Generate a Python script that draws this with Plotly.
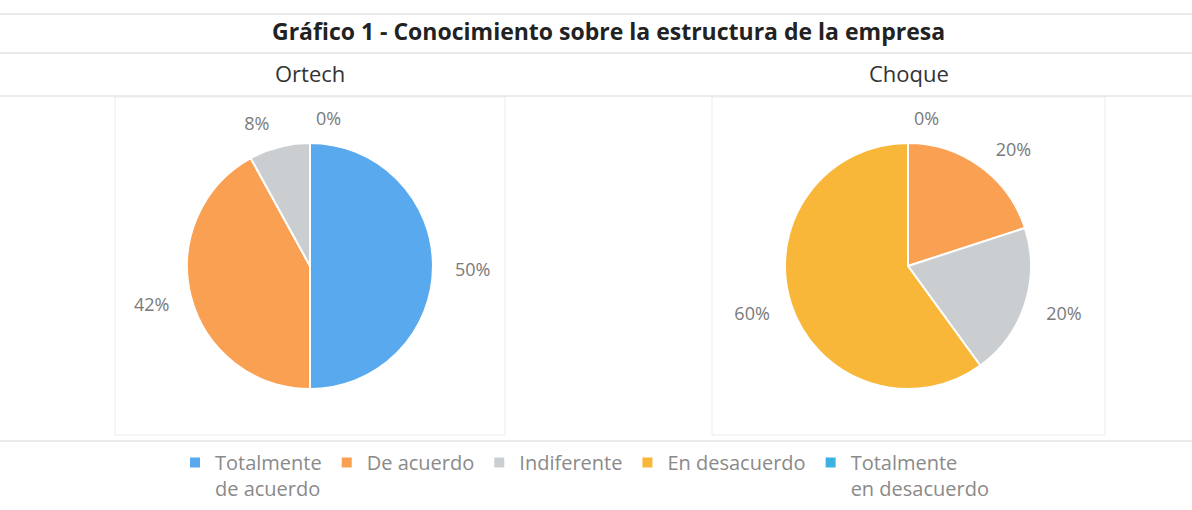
import plotly.graph_objects as go

categories = ["Totalmente<br>de acuerdo", "De acuerdo", "Indiferente", "En desacuerdo", "Totalmente<br>en desacuerdo"]
colors = ["#58A9EE", "#F9A052", "#CBCED1", "#F9B73A", "#3DB1E2"]
ortech_values = [50, 42, 8, 0, 0]
choque_values = [0, 20, 20, 60, 0]
subtitles = ["Ortech", "Choque"]
title_text = "<b>Gráfico 1 - Conocimiento sobre la estructura de la empresa</b>"

W, H = 1192, 510
FONT = "Open Sans"

def dom_x(cx, r):
    return [(cx - r) / W, (cx + r) / W]

def dom_y(cy, r):
    return [(H - cy - r) / H, (H - cy + r) / H]

def label_templates(vals):
    # show every non-zero percentage, but only one "0%" (zero slices stack at the same spot)
    out, zero_seen = [], False
    for v in vals:
        if v == 0:
            out.append("" if zero_seen else "%{percent:.0%}")
            zero_seen = True
        else:
            out.append("%{percent:.0%}")
    return out

R = 123
R_LABEL = 139
CY = 266
CY_LABEL = 269
fig = go.Figure()
for i, (vals, cx) in enumerate([(ortech_values, 310), (choque_values, 908)]):
    fig.add_trace(go.Pie(
        labels=categories, values=vals, sort=False, direction="clockwise", rotation=0,
        marker=dict(colors=colors, line=dict(color="white", width=2)),
        textinfo="none",
        domain=dict(x=dom_x(cx, R), y=dom_y(CY, R)),
        showlegend=(i == 0), hoverinfo="label+percent",
    ))
    # transparent twin pie used only to place the percentage labels a bit further out
    fig.add_trace(go.Pie(
        labels=categories, values=vals, sort=False, direction="clockwise", rotation=0,
        marker=dict(colors=["rgba(0,0,0,0)"] * len(vals), line=dict(width=0)),
        textinfo="percent", textposition="outside",
        texttemplate=label_templates(vals),
        textfont=dict(family=FONT, size=18, color="#7a7a7a"),
        domain=dict(x=dom_x(cx, R_LABEL), y=dom_y(CY_LABEL, R_LABEL)),
        showlegend=False, hoverinfo="skip",
    ))

shapes = []
for y in [14, 53, 96, 441]:
    shapes.append(dict(type="line", xref="paper", yref="paper", x0=0, x1=1,
                       y0=1 - y / H, y1=1 - y / H, line=dict(color="#d6d6d6", width=1)))
for x0, x1 in [(115, 505), (712, 1105)]:
    shapes.append(dict(type="rect", xref="paper", yref="paper", x0=x0 / W, x1=x1 / W,
                       y0=1 - 435 / H, y1=1 - 97 / H, line=dict(color="#ececec", width=1),
                       fillcolor="rgba(0,0,0,0)"))

annotations = [
    dict(text=title_text, x=608 / W, y=1 - 31 / H, xref="paper", yref="paper", showarrow=False,
         font=dict(family=FONT, size=23, color="#222222"), xanchor="center", yanchor="middle"),
    dict(text=subtitles[0], x=310 / W, y=1 - 73 / H, xref="paper", yref="paper", showarrow=False,
         font=dict(family=FONT, size=22, color="#333333"), xanchor="center", yanchor="middle"),
    dict(text=subtitles[1], x=909 / W, y=1 - 73 / H, xref="paper", yref="paper", showarrow=False,
         font=dict(family=FONT, size=22, color="#333333"), xanchor="center", yanchor="middle"),
]

fig.update_layout(
    width=W, height=H, margin=dict(l=0, r=0, t=0, b=0, autoexpand=False),
    paper_bgcolor="white", plot_bgcolor="white",
    shapes=shapes, annotations=annotations,
    legend=dict(orientation="h", x=175 / W, y=1 - 443 / H, xanchor="left", yanchor="top",
                xref="container", yref="container",
                font=dict(family=FONT, size=20, color="#8a8a8a"), itemwidth=30,
                traceorder="normal", valign="top", tracegroupgap=0),
)

fig.write_html("out.html")
